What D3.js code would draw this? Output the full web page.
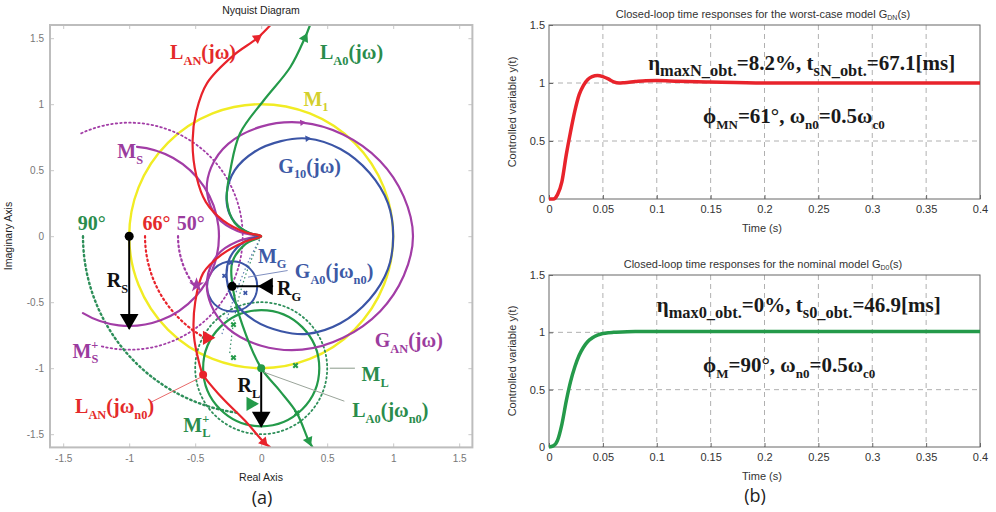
<!DOCTYPE html>
<html><head><meta charset="utf-8">
<script src="https://cdn.jsdelivr.net/npm/d3@7"></script>
<style>body{margin:0;background:#fff}svg{display:block}</style>
</head><body>
<svg id="c" width="996" height="512"></svg>
<script>
// ---------------- DATA ----------------
const nyqTicks = [-1.5, -1, -0.5, 0, 0.5, 1, 1.5];
const nyqTickLabels = ["-1.5", "-1", "-0.5", "0", "0.5", "1", "1.5"];
const timeTicks = [0, 0.05, 0.1, 0.15, 0.2, 0.25, 0.3, 0.35, 0.4];
const timeTickLabels = ["0", "0.05", "0.1", "0.15", "0.2", "0.25", "0.3", "0.35", "0.4"];
const respTicks = [0, 0.5, 1, 1.5];
const respTickLabels = ["0", "0.5", "1", "1.5"];

// Nyquist curves [Re, Im]
const curveGAN = [[0,0],[-0.18,0.04],[-0.33,0.14],[-0.41,0.33],[-0.38,0.52],[-0.25,0.7],[0,0.83],[0.31,0.86],[0.62,0.77],[0.9,0.57],[1.08,0.3],[1.15,0],[1.08,-0.3],[0.9,-0.57],[0.62,-0.77],[0.31,-0.86],[0,-0.83],[-0.25,-0.7],[-0.38,-0.52],[-0.41,-0.33],[-0.33,-0.14],[-0.18,-0.04],[0,0]];
const curveG10 = [[0,0],[-0.14,0.05],[-0.24,0.17],[-0.26,0.33],[-0.2,0.5],[-0.05,0.64],[0.15,0.72],[0.35,0.74],[0.6,0.66],[0.82,0.48],[0.96,0.25],[1.0,0],[0.96,-0.25],[0.82,-0.48],[0.6,-0.66],[0.35,-0.74],[0.15,-0.72],[-0.05,-0.64],[-0.2,-0.5],[-0.26,-0.33],[-0.24,-0.17],[-0.14,-0.05],[0,0]];
const curveLAN = [[0.07,1.6],[-0.03,1.5],[-0.21,1.37],[-0.41,1.16],[-0.49,0.95],[-0.52,0.72],[-0.49,0.45],[-0.42,0.26],[-0.29,0.12],[-0.12,0.03],[0,0],[-0.12,-0.04],[-0.3,-0.14],[-0.44,-0.28],[-0.5,-0.5],[-0.51,-0.75],[-0.47,-0.96],[-0.44,-1.05],[-0.3,-1.22],[-0.12,-1.4],[0.02,-1.56],[0.07,-1.6]];
const curveLA0 = [[0.37,1.6],[0.33,1.5],[0.22,1.28],[0.02,1.03],[-0.16,0.78],[-0.23,0.52],[-0.26,0.27],[-0.2,0.1],[-0.08,0.02],[0,0],[-0.12,-0.06],[-0.22,-0.2],[-0.21,-0.42],[-0.14,-0.68],[0,-1],[0.14,-1.17],[0.27,-1.34],[0.36,-1.55],[0.39,-1.6]];

// circles: [cx, cy, r]
const circM1 = [0, 0, 1];
const circML = [0, -1, 0.44];
const circMLplus = [0, -1, 0.5];
const circMG = [-0.22, -0.38, 0.19];
// arcs: [cx, cy, r, startDeg, endDeg]
const arcMS = [-1, 0, 0.68, 85, -121];
const arcMSplus = [-1, 0, 0.86, 115, -105];
const arc90 = [0, 0, 1.35, 180, 263];
const arc66 = [0, 0, 0.88, 180, 241];
const arc50 = [0, 0, 0.63, 180, 216];

const dotsBlack = [[-1, 0], [-0.22, -0.38]];
const dotGreen = [0, -1];
const dotRed = [-0.44, -1.05];
const crossesGreen = [[-0.21,-0.67],[-0.21,-0.92],[0.26,-0.98],[0.27,-1.34]];
const crossesBlue = [[-0.23,-0.2],[-0.12,-0.43],[-0.28,-0.3]];
const arrowRS = [[-1, 0], [-1, -0.7]];
const arrowRL = [[0, -1], [0, -1.44]];
const arrowRG = [[-0.22, -0.38], [0.0, -0.38]];

// time responses
const tRed = [0,0.004,0.008,0.012,0.016,0.02,0.024,0.028,0.032,0.036,0.04,0.045,0.05,0.055,0.06,0.065,0.07,0.08,0.09,0.1,0.12,0.15,0.2,0.3,0.4];
const yRed = [0,0,0.04,0.15,0.38,0.58,0.76,0.9,0.98,1.03,1.055,1.065,1.055,1.035,1.01,1.0,1.003,1.012,1.02,1.022,1.015,1.008,1.0,1.0,1.0];
const tGreen = [0,0.004,0.008,0.012,0.016,0.02,0.024,0.028,0.032,0.036,0.04,0.045,0.05,0.055,0.06,0.08,0.1,0.2,0.4];
const yGreen = [0,0.01,0.06,0.2,0.4,0.57,0.7,0.8,0.87,0.92,0.95,0.975,0.99,0.997,1.0,1.008,1.008,1.008,1.008];

// ---------------- DRAW ----------------
const svg = d3.select("#c");
const C = {red:"#e8232b", green:"#249a4a", purple:"#a23da6", blue:"#3b55a6", yellow:"#f1ec24",
  tred:"#e42a2a", tgreen:"#2a8c4c", tpurple:"#9b3c9e", tblue:"#3d5aa6", tyellow:"#d3cf2c"};

function rich(sel, x, y, parts, o) {
  const fs = o.size;
  const t = sel.append("text").attr("x", x).attr("y", y)
    .attr("font-family", o.family || "Liberation Serif")
    .attr("font-weight", o.weight || "bold").attr("font-size", fs)
    .attr("fill", o.color || "#000").attr("text-anchor", o.anchor || "start");
  let cur = 0;
  parts.forEach(([txt, type, dx]) => {
    const target = type === "s" ? fs * 0.28 : type === "p" ? -fs * 0.42 : 0;
    const ts = t.append("tspan").text(txt).attr("dy", target - cur)
      .attr("font-size", type === "n" ? fs : fs * (o.subScale || 0.62));
    if (dx) ts.attr("dx", dx);
    cur = target;
  });
  return t;
}

// ===== Left: Nyquist =====
const xN = d3.scaleLinear().domain([-1.6, 1.6]).range([50, 472.4]);
const yN = d3.scaleLinear().domain([-1.6, 1.6]).range([447.4, 25]);
const k = xN(1) - xN(0);
const gL = svg.append("g");
gL.append("defs").append("clipPath").attr("id", "clipN").append("rect")
  .attr("x", 50).attr("y", 25).attr("width", 422.4).attr("height", 422.4);

// axes
const axB = d3.axisBottom(xN).tickValues(nyqTicks).tickFormat((d,i)=>nyqTickLabels[i]).tickSizeInner(-4).tickSizeOuter(0).tickPadding(8);
const axL = d3.axisLeft(yN).tickValues(nyqTicks).tickFormat((d,i)=>nyqTickLabels[i]).tickSizeInner(-4).tickSizeOuter(0).tickPadding(6);
const axT = d3.axisTop(xN).tickValues(nyqTicks).tickFormat("").tickSizeInner(-4).tickSizeOuter(0);
const axR = d3.axisRight(yN).tickValues(nyqTicks).tickFormat("").tickSizeInner(-4).tickSizeOuter(0);
function styleAx(g, col) {
  g.select(".domain").remove();
  g.selectAll("line").attr("stroke", "#c8c8c8");
  g.selectAll("text").attr("fill", col).attr("font-family", "Liberation Sans").attr("font-size", 10);
}
gL.append("g").attr("transform", `translate(0,${yN(-1.6)})`).call(axB).call(g=>styleAx(g,"#777"));
gL.append("g").attr("transform", `translate(${xN(-1.6)},0)`).call(axL).call(g=>styleAx(g,"#777"));
gL.append("g").attr("transform", `translate(0,${yN(1.6)})`).call(axT).call(g=>styleAx(g,"#777"));
gL.append("g").attr("transform", `translate(${xN(1.6)},0)`).call(axR).call(g=>styleAx(g,"#777"));

const plot = gL.append("g").attr("clip-path", "url(#clipN)");
const line = d3.line().x(d => xN(d[0])).y(d => yN(d[1])).curve(d3.curveCatmullRom.alpha(0.5));

function circle(c, col, w, dash) {
  plot.append("circle").attr("cx", xN(c[0])).attr("cy", yN(c[1])).attr("r", c[2] * k)
    .attr("fill", "none").attr("stroke", col).attr("stroke-width", w)
    .attr("stroke-dasharray", dash || null).attr("stroke-linecap", "round");
}
function arc(a, col, w, dash) {
  const p = d3.path(), rad = Math.PI / 180;
  p.arc(xN(a[0]), yN(a[1]), a[2] * k, -a[3] * rad, -a[4] * rad, a[4] > a[3]);
  plot.append("path").attr("d", p.toString()).attr("fill", "none").attr("stroke", col)
    .attr("stroke-width", w).attr("stroke-dasharray", dash || null).attr("stroke-linecap", "round");
}
function curve(pts, col, w) {
  plot.append("path").attr("d", line(pts)).attr("fill", "none").attr("stroke", col).attr("stroke-width", w);
}
function tri(p, angleDeg, col, size) {
  plot.append("path").attr("d", d3.symbol(d3.symbolTriangle, size)())
    .attr("transform", `translate(${xN(p[0])},${yN(p[1])}) rotate(${angleDeg})`).attr("fill", col);
}
// arrowhead at pts[i], pointing away from pts[j]
function dirTri(pts, j, i, col, size) {
  const a = pts[j], b = pts[i];
  const ang = Math.atan2(yN(b[1]) - yN(a[1]), xN(b[0]) - xN(a[0])) * 180 / Math.PI + 90;
  tri(b, ang, col, size);
}

// yellow M1
circle(circM1, C.yellow, 2.4);
// dotted circles / arcs
circle(circMLplus, "#2e8f5a", 1.8, "1.5,3");
arc(arcMSplus, C.purple, 1.8, "1.5,3");
arc(arc90, "#2e8f5a", 2.4, "1.5,3.2");
arc(arc66, C.red, 2.2, "1.5,3.2");
arc(arc50, C.purple, 2.2, "1.5,3.2");
// thin dotted guide lines
plot.append("path").attr("d", line([[0,0],[-0.12,-0.3],[-0.2,-0.6],[-0.24,-0.9]])).attr("fill","none").attr("stroke","#3a8f6a").attr("stroke-width",1.2).attr("stroke-dasharray","1.5,2.5");
plot.append("path").attr("d", line([[0,0],[-0.1,-0.2],[-0.2,-0.45],[-0.3,-0.75]])).attr("fill","none").attr("stroke","#5a7ab0").attr("stroke-width",1.2).attr("stroke-dasharray","1.5,2.5");
// solid circles
circle(circML, C.green, 2.2);
circle(circMG, C.blue, 2.0);
arc(arcMS, C.purple, 2.2);
// Nyquist curves
curve(curveGAN, C.purple, 2.2);
curve(curveG10, C.blue, 2.2);
curve(curveLA0, C.green, 2.2);
curve(curveLAN, C.red, 2.2);

// leader lines
const lead = (a, b, col) => plot.append("line").attr("x1", xN(a[0])).attr("y1", yN(a[1])).attr("x2", xN(b[0])).attr("y2", yN(b[1])).attr("stroke", col).attr("stroke-width", 1);
lead([-0.84,-1.26],[-0.46,-1.07], "#e86a6a");
lead([0.52,-1.0],[0.71,-1.0], "#8a9a8a");
lead([0.02,-1.03],[0.63,-1.25], "#9aa49a");
lead([-0.1,-0.31],[0.2,-0.26], "#8090c0");

// arrowheads on curves
dirTri(curveLAN, 2, 1, C.red, 45);
dirTri(curveLAN, 19, 20, C.red, 45);
dirTri(curveLA0, 2, 1, C.green, 45);
dirTri(curveLA0, 16, 17, C.green, 45);
dirTri(curveGAN, 6, 7, C.purple, 18);
dirTri(curveG10, 6, 7, C.blue, 18);

// end-of-arc triangles
tri([-0.41,-0.77], 90, C.red, 90);
tri([-0.08,-1.27], 90, C.green, 90);
plot.append("path").attr("d", d3.symbol(d3.symbolStar, 70)()).attr("transform", `translate(${xN(-0.49)},${yN(-0.37)})`).attr("fill", C.purple);

// crosses
crossesGreen.forEach(p => plot.append("path").attr("d", d3.symbol(d3.symbolCross, 22)()).attr("transform", `translate(${xN(p[0])},${yN(p[1])}) rotate(45)`).attr("fill", C.green));
crossesBlue.forEach(p => plot.append("path").attr("d", d3.symbol(d3.symbolCross, 14)()).attr("transform", `translate(${xN(p[0])},${yN(p[1])}) rotate(45)`).attr("fill", C.blue));

// R arrows
function radArrow(a, rot, tip) {
  plot.append("line").attr("x1", xN(a[0][0])).attr("y1", yN(a[0][1])).attr("x2", xN(a[1][0])).attr("y2", yN(a[1][1])).attr("stroke", "#000").attr("stroke-width", 2);
  tri(tip, rot, "#000", 150);
}
radArrow(arrowRS, 180, [arrowRS[1][0], arrowRS[1][1] + 0.07]);
radArrow(arrowRL, 180, [arrowRL[1][0], arrowRL[1][1] + 0.07]);
plot.append("line").attr("x1", xN(arrowRG[0][0])).attr("y1", yN(arrowRG[0][1])).attr("x2", xN(0.09)).attr("y2", yN(-0.38)).attr("stroke", "#000").attr("stroke-width", 2);
tri([0.05, -0.38], -90, "#000", 130);

dotsBlack.forEach(p => plot.append("circle").attr("cx", xN(p[0])).attr("cy", yN(p[1])).attr("r", 4.5).attr("fill", "#000"));
plot.append("circle").attr("cx", xN(dotGreen[0])).attr("cy", yN(dotGreen[1])).attr("r", 4).attr("fill", C.green);
plot.append("circle").attr("cx", xN(dotRed[0])).attr("cy", yN(dotRed[1])).attr("r", 4).attr("fill", C.red);

// frame
gL.append("rect").attr("x", 50).attr("y", 25).attr("width", 422.4).attr("height", 422.4).attr("fill", "none").attr("stroke", "#bdbdbd").attr("stroke-width", 2);

// labels
const L = (re, im, parts, col, size) => rich(gL, xN(re), yN(im), parts, {size: size || 20, color: col});
L(-0.69, 1.34, [["L","n"],["AN","s"],["(jω)","n"]], C.tred);
L(0.445, 1.34, [["L","n"],["A0","s"],["(jω)","n"]], C.tgreen);
L(0.32, 0.99, [["M","n"],["1","s"]], C.tyellow);
L(-1.09, 0.59, [["M","n"],["S","s"]], C.tpurple);
L(0.13, 0.48, [["G","n"],["10","s"],["(jω)","n"]], C.tblue);
L(-1.39, 0.05, [["90°","n"]], C.tgreen);
L(-0.9, 0.05, [["66°","n"]], C.tred);
L(-0.64, 0.05, [["50°","n"]], C.tpurple);
L(-1.17, -0.385, [["R","n"],["S","s"]], "#111");
L(-0.025, -0.2, [["M","n"],["G","s"]], C.tblue);
L(0.255, -0.32, [["G","n"],["A0","s"],["(jω","n"],["n0","s"],[")","n"]], C.tblue);
L(0.12, -0.445, [["R","n"],["G","s"]], "#111");
L(0.86, -0.84, [["G","n"],["AN","s"],["(jω)","n"]], C.tpurple);
L(-1.43, -0.92, [["M","n"],["+","p"],["S","s","-7"]], C.tpurple);
L(0.76, -1.1, [["M","n"],["L","s"]], C.tgreen);
L(-0.18, -1.18, [["R","n"],["L","s"]], "#111");
L(-1.41, -1.34, [["L","n"],["AN","s"],["(jω","n"],["n0","s"],[")","n"]], C.tred);
L(0.69, -1.37, [["L","n"],["A0","s"],["(jω","n"],["n0","s"],[")","n"]], C.tgreen);
L(-0.59, -1.48, [["M","n"],["+","p"],["L","s","-7"]], C.tgreen);

gL.append("text").attr("x", 261).attr("y", 14).attr("text-anchor", "middle").attr("font-family", "Liberation Sans").attr("font-size", 10.5).attr("fill", "#222").text("Nyquist Diagram");
gL.append("text").attr("x", 261).attr("y", 481).attr("text-anchor", "middle").attr("font-family", "Liberation Sans").attr("font-size", 10.5).attr("fill", "#222").text("Real Axis");
gL.append("text").attr("transform", "translate(12,236) rotate(-90)").attr("text-anchor", "middle").attr("font-family", "Liberation Sans").attr("font-size", 10.5).attr("fill", "#222").text("Imaginary Axis");
gL.append("text").attr("x", 262).attr("y", 504).attr("text-anchor", "middle").attr("font-family", "Open Sans").attr("font-size", 18).attr("fill", "#222").text("(a)");

// ===== Right: time responses =====
const xT = d3.scaleLinear().domain([0, 0.4]).range([549, 980]);
function panel(y0, y1, title, ts, ys, col, ann1, ann2) {
  const yT = d3.scaleLinear().domain([0, 1.5]).range([y1, y0]);
  const g = svg.append("g");
  // grid
  g.selectAll(".gx").data(timeTicks.slice(1, -1)).join("line").attr("x1", d => xT(d)).attr("x2", d => xT(d)).attr("y1", y0).attr("y2", y1).attr("stroke", "#b0b0b0").attr("stroke-dasharray", "5,4").attr("stroke-width", 1);
  g.selectAll(".gy").data(respTicks.slice(1, -1)).join("line").attr("x1", 549).attr("x2", 980).attr("y1", d => yT(d)).attr("y2", d => yT(d)).attr("stroke", "#b0b0b0").attr("stroke-dasharray", "5,4").attr("stroke-width", 1);
  const ax = g.append("g").attr("transform", `translate(0,${y1})`).call(d3.axisBottom(xT).tickValues(timeTicks).tickFormat((d,i)=>timeTickLabels[i]).tickSizeInner(-4).tickSizeOuter(0).tickPadding(6));
  const ay = g.append("g").attr("transform", `translate(549,0)`).call(d3.axisLeft(yT).tickValues(respTicks).tickFormat((d,i)=>respTickLabels[i]).tickSizeInner(-4).tickSizeOuter(0).tickPadding(4));
  [ax, ay].forEach(a => { a.select(".domain").remove(); a.selectAll("line").attr("stroke", "#666"); a.selectAll("text").attr("fill", "#333").attr("font-family", "Liberation Sans").attr("font-size", 11); });
  g.append("rect").attr("x", 549).attr("y", y0).attr("width", 431).attr("height", y1 - y0).attr("fill", "none").attr("stroke", "#666").attr("stroke-width", 1);
  const ln = d3.line().x((d, i) => xT(ts[i])).y(d => yT(d)).curve(d3.curveMonotoneX);
  g.append("path").attr("d", ln(ys)).attr("fill", "none").attr("stroke", col).attr("stroke-width", 3.5).attr("stroke-linejoin", "round");
  g.append("text").attr("x", 763).attr("y", y0 - 7).attr("text-anchor", "middle").attr("font-family", "Liberation Sans").attr("font-size", 11).attr("fill", "#333").text(title[0]).append("tspan").attr("font-size", 7).attr("dy", 2).text(title[1]).append("tspan").attr("font-size", 11).attr("dy", -2).text(title[2]);
  g.append("text").attr("transform", `translate(516,${(y0 + y1) / 2}) rotate(-90)`).attr("text-anchor", "middle").attr("font-family", "Liberation Sans").attr("font-size", 11).attr("fill", "#333").text("Controlled variable y(t)");
  g.append("text").attr("x", 762).attr("y", y1 + 33).attr("text-anchor", "middle").attr("font-family", "Liberation Sans").attr("font-size", 11).attr("fill", "#333").text("Time (s)");
  rich(g, xT(ann1.t), yT(ann1.y), ann1.parts, {size: 21, color: "#1a1a1a", subScale: 0.78});
  rich(g, xT(ann2.t), yT(ann2.y), ann2.parts, {size: 21, color: "#1a1a1a", subScale: 0.62});
}
panel(25, 199, ["Closed-loop time responses for the worst-case model G", "DN", "(s)"], tRed, yRed, C.red,
  {t: 0.092, y: 1.11, parts: [["η","n"],["maxN_obt.","s"],["=8.2%, t","n"],["sN_obt.","s"],["=67.1[ms]","n"]]},
  {t: 0.143, y: 0.655, parts: [["ϕ","n"],["MN","s"],["=61°, ω","n"],["n0","s"],["=0.5ω","n"],["c0","s"]]});
panel(275, 447, ["Closed-loop time responses for the nominal model G", "D0", "(s)"], tGreen, yGreen, C.green,
  {t: 0.1, y: 1.18, parts: [["η","n"],["max0_obt.","s"],["=0%, t","n"],["s0_obt.","s"],["=46.9[ms]","n"]]},
  {t: 0.143, y: 0.65, parts: [["ϕ","n"],["M","s"],["=90°, ω","n"],["n0","s"],["=0.5ω","n"],["c0","s"]]});
svg.append("text").attr("x", 755).attr("y", 502).attr("text-anchor", "middle").attr("font-family", "Open Sans").attr("font-size", 18).attr("fill", "#222").text("(b)");
</script>
</body></html>
